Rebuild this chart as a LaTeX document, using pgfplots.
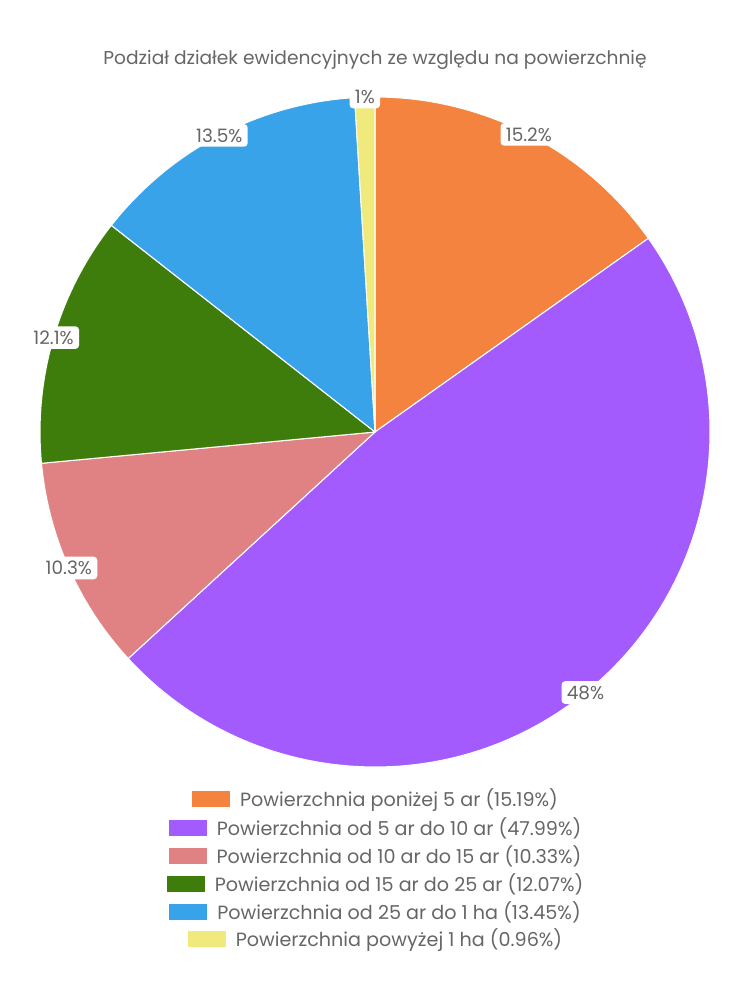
\documentclass[border=0pt]{standalone}
\usepackage{pgfplots}
\pgfplotsset{compat=1.18}
\usepackage{pgfplotstable}
\usepackage{fontspec}
\setmainfont{Poppins}
\definecolor{cOr}{HTML}{F4833F}
\definecolor{cPu}{HTML}{A35BFE}
\definecolor{cPi}{HTML}{E08283}
\definecolor{cGr}{HTML}{3E7C0B}
\definecolor{cBl}{HTML}{38A3E9}
\definecolor{cYe}{HTML}{EFEA7B}
\definecolor{txt}{HTML}{666666}
% slice: start (percent), value (percent), colour
\newcommand\slice[4]{%
  \pgfmathsetmacro\sa{90-3.6*#1}%
  \pgfmathsetmacro\sb{90-3.6*(#1+#2)}%
  \pgfmathsetmacro\xa{cos(\sa)}\pgfmathsetmacro\ya{sin(\sa)}%
  \edef\temp{\noexpand\filldraw[fill=#3, draw=white, line width=0.6pt, line join=round]
    (axis cs:0,0) -- (axis cs:\xa,\ya) arc[start angle=\sa, end angle=\sb, radius=6.7cm] -- cycle;}%
  \temp
}
\newcommand\slicelabel[3]{%
  \pgfmathsetmacro\sm{90-3.6*(#1+#2/2)}%
  \pgfmathsetmacro\xm{cos(\sm)}\pgfmathsetmacro\ym{sin(\sm)}%
  \edef\temp{\noexpand\node[fill=white, rounded corners=2pt, inner xsep=3pt, inner ysep=2.5pt, text=txt, font=\noexpand\fontsize{10.5}{12}\noexpand\selectfont] at (axis cs:\xm,\ym) {#3};}%
  \temp
}
\newcommand\legrow[3]{%
  \node[text=txt, font=\fontsize{10.9}{13}\selectfont, anchor=center] at (7.5cm,#1)
    {\textcolor{#2}{\rule[-0.5pt]{0.76cm}{0.32cm}}\hspace{0.2cm}#3};
}
\begin{document}
\begin{tikzpicture}
\useasboundingbox (0,0) rectangle (15cm,20cm);
\begin{axis}[
  at={(7.5cm,11.36cm)}, anchor=center,
  scale only axis, width=13.4cm, height=13.4cm,
  xmin=-1, xmax=1, ymin=-1, ymax=1,
  hide axis, clip=false,
]
\slice{0}{15.19}{cOr}{}
\slice{15.19}{47.99}{cPu}{}
\slice{63.18}{10.33}{cPi}{}
\slice{73.51}{12.07}{cGr}{}
\slice{85.58}{13.45}{cBl}{}
\slice{99.03}{0.97}{cYe}{}
\slicelabel{0}{15.19}{15.2\%}
\slicelabel{15.19}{47.99}{48\%}
\slicelabel{63.18}{10.33}{10.3\%}
\slicelabel{73.51}{12.07}{12.1\%}
\slicelabel{85.58}{13.45}{13.5\%}
\slicelabel{99.03}{0.97}{1\%}
\end{axis}
\node[text=txt, font=\fontsize{10.6}{12}\selectfont] at (7.5cm,18.8cm) {Podział działek ewidencyjnych ze względu na powierzchnię};
\legrow{4.0cm}{cOr}{Powierzchnia poniżej 5 ar (15.19\%)}
\legrow{3.44cm}{cPu}{Powierzchnia od 5 ar do 10 ar (47.99\%)}
\legrow{2.88cm}{cPi}{Powierzchnia od 10 ar do 15 ar (10.33\%)}
\legrow{2.32cm}{cGr}{Powierzchnia od 15 ar do 25 ar (12.07\%)}
\legrow{1.76cm}{cBl}{Powierzchnia od 25 ar do 1 ha (13.45\%)}
\legrow{1.2cm}{cYe}{Powierzchnia powyżej 1 ha (0.96\%)}
\end{tikzpicture}
\end{document}
